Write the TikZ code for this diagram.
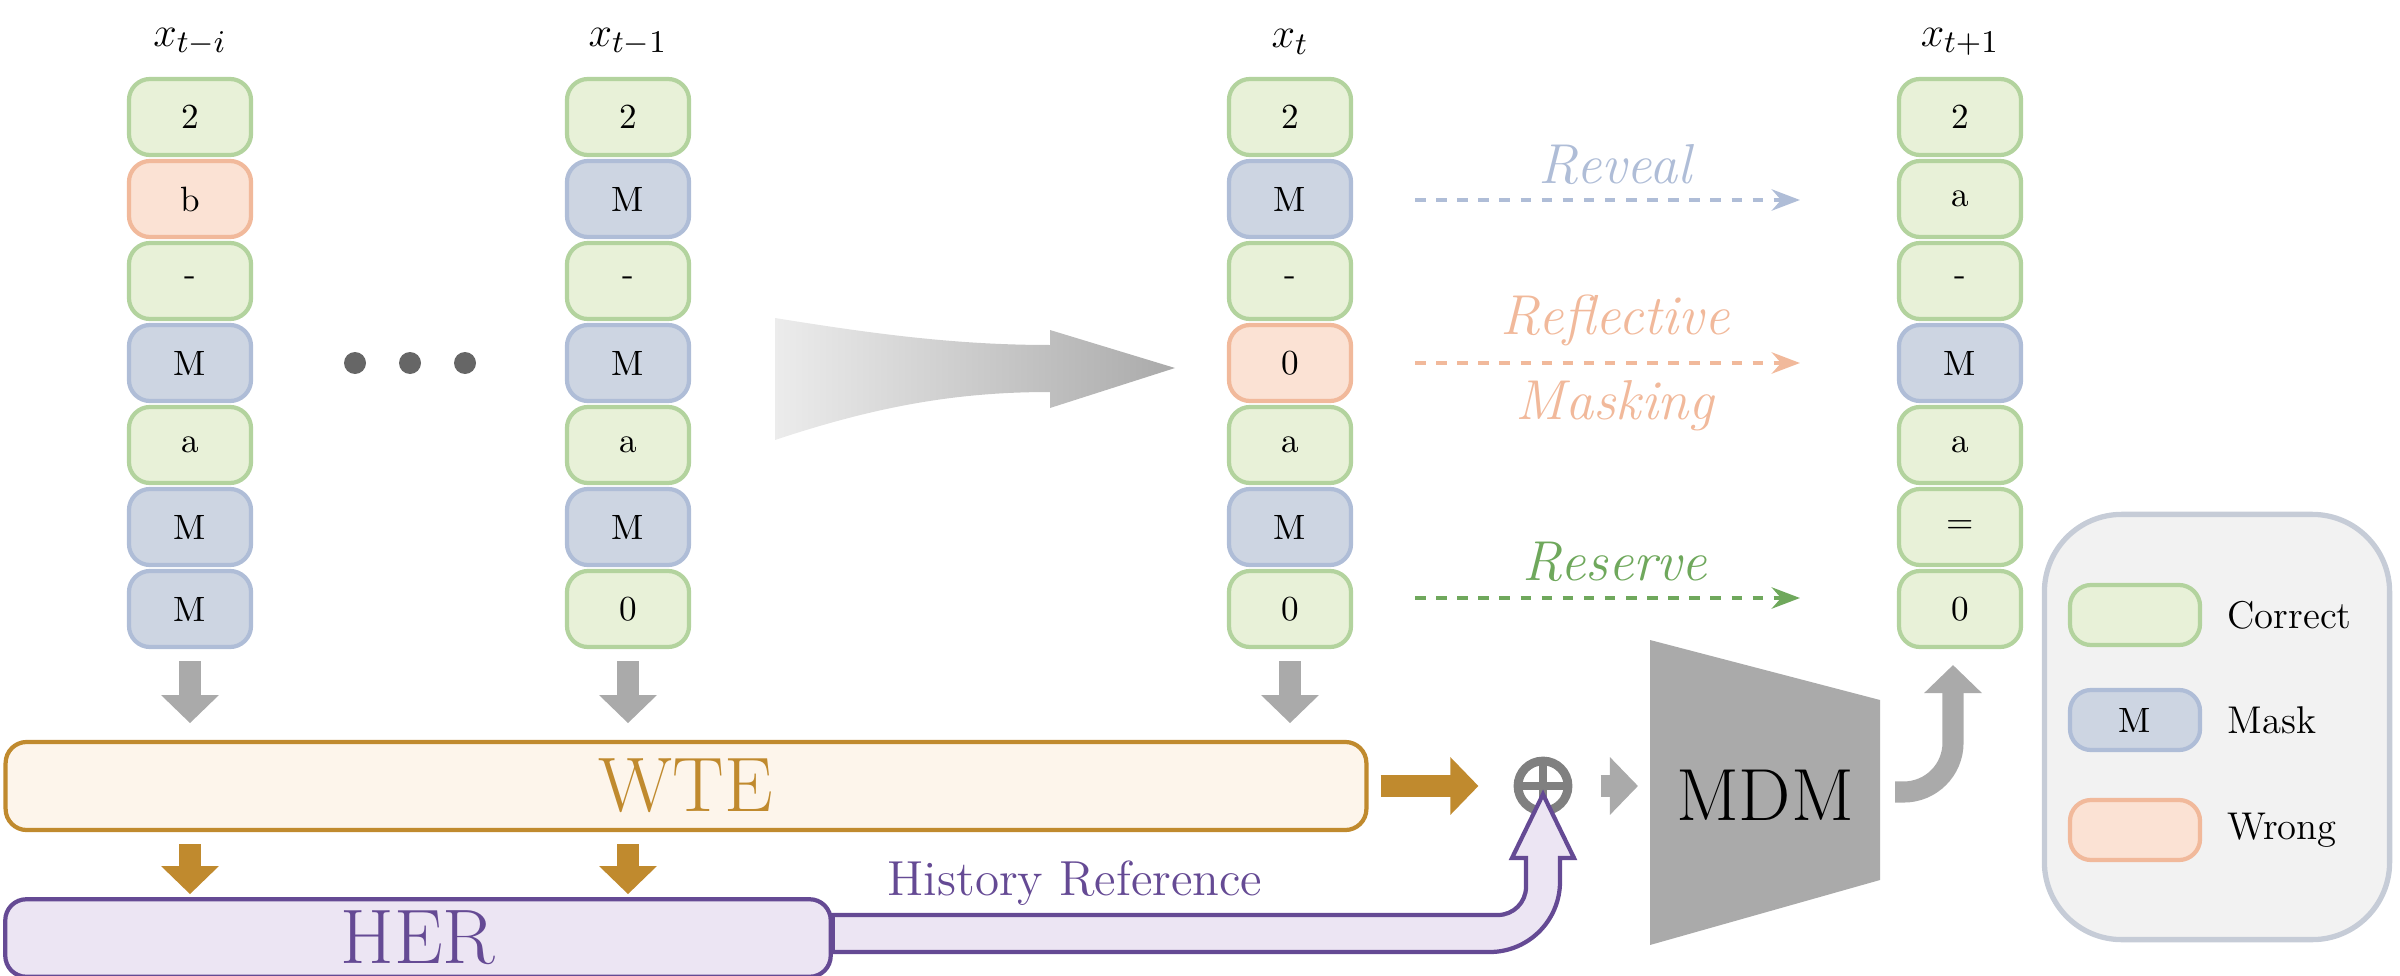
\documentclass[tikz,border=0pt]{standalone}
\usetikzlibrary{arrows.meta}
\definecolor{gfill}{HTML}{E8F1D8}\definecolor{gdraw}{HTML}{B3D39E}
\definecolor{bfill}{HTML}{CDD5E2}\definecolor{bdraw}{HTML}{AFBDD7}
\definecolor{ofill}{HTML}{FBE2D4}\definecolor{odraw}{HTML}{F1B99B}
\definecolor{wtefill}{HTML}{FDF5EB}\definecolor{wtedraw}{HTML}{C08A2E}
\definecolor{herfill}{HTML}{ECE5F3}\definecolor{herdraw}{HTML}{654A94}
\definecolor{arrgray}{HTML}{AAAAAA}
\definecolor{resgreen}{HTML}{6FA85C}
\tikzset{
  cell/.style = {draw, line width = 1.2pt, rounded corners = 6pt, minimum width = 1.22cm, minimum height = 0.76cm, font = \fontsize{10}{12}\selectfont},
  g/.style = {cell, fill = gfill, draw = gdraw},
  b/.style = {cell, fill = bfill, draw = bdraw},
  o/.style = {cell, fill = ofill, draw = odraw},
  down/.style = {-{Triangle[width=16pt,length=8pt]}, line width = 6pt},
  hint/.style = {dashed, line width = 1.4pt, -{Stealth[length=8pt]}}
}
\begin{document}
\begin{tikzpicture}[x = 0.01cm, y = -0.01cm]
\useasboundingbox (0,0) rectangle (2400,976);
% token columns
\foreach \c/\x/\lab/\toks in {a/190/{x_{t-i}}/{g/2,o/b,g/-,b/M,g/a,b/M,b/M},
                              b/628/{x_{t-1}}/{g/2,b/M,g/-,b/M,g/a,b/M,g/0},
                              c/1290/{x_{t}}/{g/2,b/M,g/-,o/0,g/a,b/M,g/0},
                              d/1960/{x_{t+1}}/{g/2,g/a,g/-,b/M,g/a,g/=,g/0}} {
  \node[font = \fontsize{13}{15}\selectfont] (lab\c) at (\x,42) {$\lab$};
  \foreach \s/\t [count = \i] in \toks
    \node[\s] (\c\i) at (\x,117+82*\i-82) {\t};
}
\foreach \i in {0,1,2} \fill[gray!80!black] (355+55*\i,363) circle (11);
% big arrow
\shade[left color = gray!15, right color = arrgray]
  (775,318) .. controls (880,335) and (960,345) .. (1050,345) -- (1050,330) -- (1175,368)
  -- (1050,408) -- (1050,392) .. controls (960,392) and (880,405) .. (775,440) -- cycle;
% hints
\coordinate (r1) at (1415,200); \coordinate (r2) at (1800,200);
\draw[hint, color = bdraw] (r1) -- (r2);
\node[font = \fontsize{16}{18}\selectfont\itshape, color = bdraw] at (1615,165) {Reveal};
\coordinate (m1) at (1415,363); \coordinate (m2) at (1800,363);
\draw[hint, color = odraw] (m1) -- (m2);
\node[font = \fontsize{16}{18}\selectfont\itshape, color = odraw, align = center] at (1615,363) {Reflective\\[6pt]Masking};
\coordinate (s1) at (1415,598); \coordinate (s2) at (1800,598);
\draw[hint, color = resgreen] (s1) -- (s2);
\node[font = \fontsize{16}{18}\selectfont\itshape, color = resgreen] at (1615,562) {Reserve};
% encoders
\node[draw = wtedraw, fill = wtefill, line width = 1.2pt, rounded corners = 6pt, minimum width = 13.6cm, minimum height = 0.88cm,
  text = wtedraw, font = \fontsize{22}{24}\selectfont] (wte) at (686,786) {WTE};
\node[draw = herdraw, fill = herfill, line width = 1.2pt, rounded corners = 6pt, minimum width = 8.25cm, minimum height = 0.75cm,
  text = herdraw, font = \fontsize{22}{24}\selectfont] (her) at (418,938) {HER};
\foreach \c in {a,b,c} \draw[down, arrgray] (\c7.south) ++(0,12) -- ++(0,62);
\foreach \c in {a,b} \draw[down, wtedraw] (\c7.south |- wte.south) ++(0,12) -- ++(0,50);
\node[circle, draw = gray, line width = 2.5pt, minimum size = 0.5cm, inner sep = 0pt] (plus) at (1543,786) {};
\draw[gray, line width = 2.5pt] (plus.north) -- (plus.south) (plus.west) -- (plus.east);
\draw[down, wtedraw] (wte.east) ++(12,0) -- ([xshift=-10]plus.west);
% history reference arrow
\filldraw[fill = herfill, draw = herdraw, line width = 1.2pt]
  (her.east |- 0,915) [rounded corners = 8pt] -- (1526,915) [sharp corners] -- (1526,858) -- (1512,858)
  -- ([yshift=6]plus.south) -- (1574,858) -- (1560,858) [rounded corners = 20pt] -- (1560,952) [sharp corners]
  -- (her.east |- 0,952) -- cycle;
\node[text = herdraw, font = \fontsize{14}{16}\selectfont] at (1075,883) {History Reference};
% MDM
\fill[arrgray] (1650,640) -- (1880,700) -- (1880,880) -- (1650,945) -- cycle;
\node[font = \fontsize{21}{24}\selectfont] (mdm) at (1765,795) {MDM};
\draw[down, arrgray] ([xshift=8]plus.east) -- (1638,786);
\draw[down, arrgray, rounded corners = 14pt] (1895,792) -- (1953,792) -- (1953,665);
% legend
\node[draw = bdraw!70!gray!60, fill = gray!10, line width = 1.5pt, rounded corners = 22pt, minimum width = 3.45cm, minimum height = 4.25cm] (legend) at (2217,727) {};
\node[g, minimum width = 1.3cm, minimum height = 0.6cm] (lg) at (2135,615) {};
\node[anchor = west, font = \fontsize{11}{13}\selectfont] at (2215,615) {Correct};
\node[b, minimum width = 1.3cm, minimum height = 0.6cm] (lb) at (2135,720) {M};
\node[anchor = west, font = \fontsize{11}{13}\selectfont] at (2215,720) {Mask};
\node[o, minimum width = 1.3cm, minimum height = 0.6cm] (lo) at (2135,830) {};
\node[anchor = west, font = \fontsize{11}{13}\selectfont] at (2215,830) {Wrong};
\end{tikzpicture}
\end{document}
